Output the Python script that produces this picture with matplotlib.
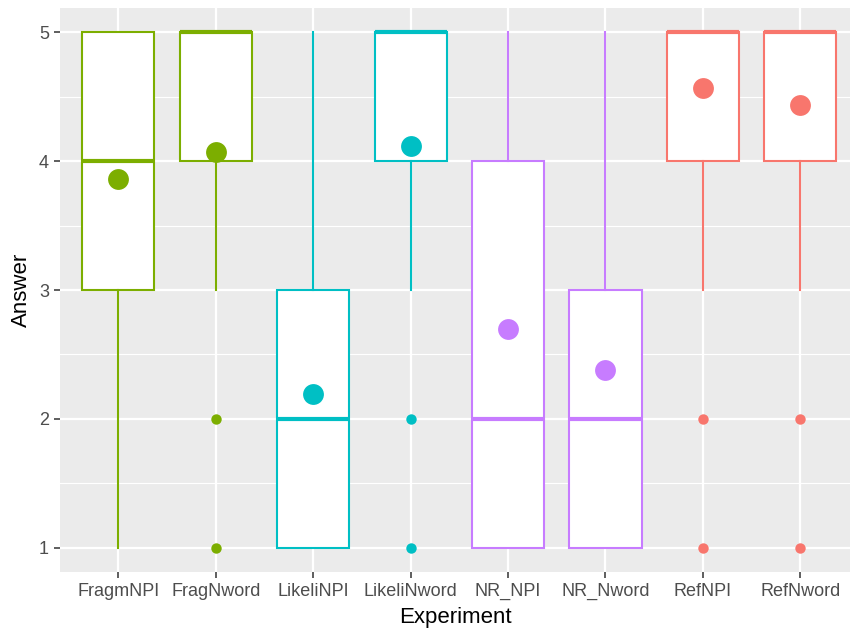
import matplotlib
matplotlib.use("Agg")
import matplotlib.pyplot as plt

plt.rcParams['font.family'] = ['Liberation Sans', 'DejaVu Sans']

experiments = ['FragmNPI', 'FragNword', 'LikeliNPI', 'LikeliNword',
               'NR_NPI', 'NR_Nword', 'RefNPI', 'RefNword']
q1 = [3, 4, 1, 4, 1, 1, 4, 4]
med = [4, 5, 2, 5, 2, 2, 5, 5]
q3 = [5, 5, 3, 5, 4, 3, 5, 5]
whislo = [1, 3, 1, 3, 1, 1, 3, 3]
whishi = [5, 5, 5, 5, 5, 5, 5, 5]
outliers = [[], [2, 1], [], [2, 1], [], [], [2, 1], [2, 1]]
means = [3.86, 4.07, 2.19, 4.12, 2.70, 2.38, 4.57, 4.44]

green, cyan, purple, red = '#7CAE00', '#00BFC4', '#C77CFF', '#F8766D'
colors = [green, green, cyan, cyan, purple, purple, red, red]

fig = plt.figure(figsize=(8.5, 6.35), dpi=100)
ax = fig.add_axes([60 / 850, 1 - 572 / 635, 790 / 850, 564 / 635])
ax.set_facecolor('#EBEBEB')

# grid
for y in [1.5, 2.5, 3.5, 4.5]:
    ax.axhline(y, color='white', lw=0.8, zorder=0)
for y in [1, 2, 3, 4, 5]:
    ax.axhline(y, color='white', lw=1.6, zorder=0)
for x in range(1, 9):
    ax.axvline(x, color='white', lw=1.6, zorder=0)

for i in range(len(experiments)):
    st = [dict(med=med[i], q1=q1[i], q3=q3[i], whislo=whislo[i],
               whishi=whishi[i], fliers=outliers[i])]
    c = colors[i]
    ax.bxp(st, positions=[i + 1], widths=0.74, patch_artist=True,
           showcaps=False, manage_ticks=False,
           boxprops=dict(facecolor='white', edgecolor=c, lw=1.5),
           whiskerprops=dict(color=c, lw=1.5),
           medianprops=dict(color=c, lw=3, solid_capstyle='butt'),
           flierprops=dict(marker='o', markerfacecolor=c, markeredgecolor='none',
                           markersize=7.5))
    ax.plot(i + 1, means[i], 'o', color=c, markersize=15, markeredgewidth=0, zorder=5)

ax.set_xlim(0.4, 8.51)
ax.set_ylim(0.81, 5.19)
ax.set_xticks(range(1, 9))
ax.set_xticklabels(experiments)
ax.set_yticks([1, 2, 3, 4, 5])
ax.tick_params(axis='both', colors='#333333', length=4, width=1.1, labelsize=13,
               labelcolor='#4D4D4D', pad=4)
for s in ax.spines.values():
    s.set_visible(False)
ax.set_xlabel('Experiment', fontsize=16, labelpad=5)
ax.set_ylabel('Answer', fontsize=16, labelpad=5)

fig.savefig('out.png', dpi=100)
